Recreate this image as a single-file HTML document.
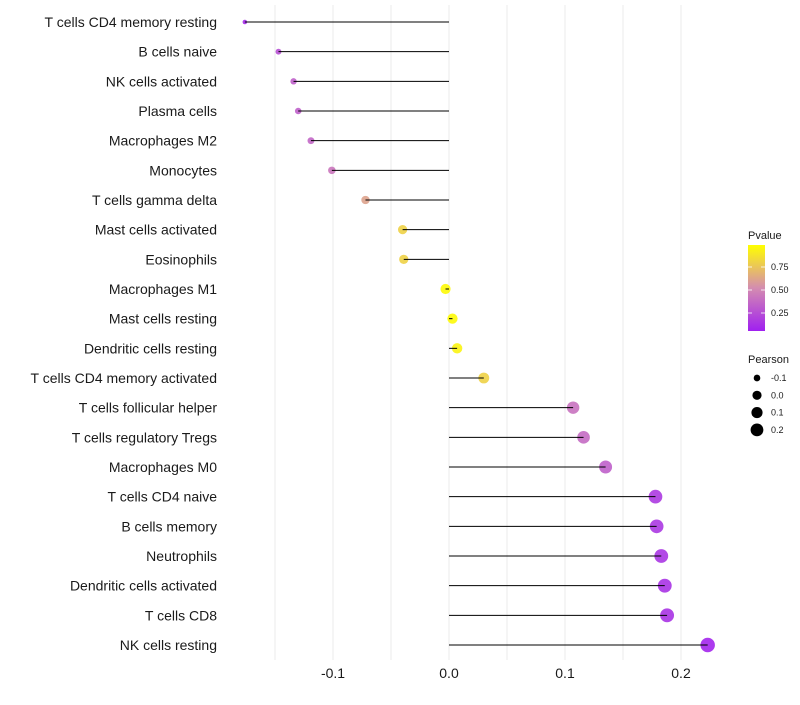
<!DOCTYPE html>
<html><head><meta charset="utf-8"><style>
body{margin:0;background:#fff;}
svg text{font-family:"Liberation Sans",sans-serif;}
</style></head><body>
<svg id="chart" width="800" height="700"></svg>
<script>
const categories=["T cells CD4 memory resting","B cells naive","NK cells activated","Plasma cells","Macrophages M2","Monocytes","T cells gamma delta","Mast cells activated","Eosinophils","Macrophages M1","Mast cells resting","Dendritic cells resting","T cells CD4 memory activated","T cells follicular helper","T cells regulatory  Tregs ","Macrophages M0","T cells CD4 naive","B cells memory","Neutrophils","Dendritic cells activated","T cells CD8","NK cells resting"];
const pearson=[-0.176,-0.147,-0.134,-0.130,-0.119,-0.101,-0.072,-0.040,-0.039,-0.003,0.003,0.007,0.030,0.107,0.116,0.135,0.178,0.179,0.183,0.186,0.188,0.223];
const pvalue=[0.05,0.22,0.3,0.3,0.33,0.4,0.6,0.8,0.8,0.98,0.98,0.95,0.8,0.38,0.35,0.3,0.12,0.11,0.1,0.09,0.09,0.03];
const xTicks=[-0.1,0.0,0.1,0.2];
const xTickLabels=["-0.1","0.0","0.1","0.2"];
const gridVals=[-0.15,-0.1,-0.05,0,0.05,0.1,0.15,0.2];
const pLegendVals=[0.25,0.5,0.75];
const pLegendLabels=["0.25","0.50","0.75"];
const sizeLegendVals=[-0.1,0.0,0.1,0.2];
const sizeLegendLabels=["-0.1","0.0","0.1","0.2"];

const NS="http://www.w3.org/2000/svg";
const svg=document.getElementById('chart');
function mk(t,a,p){const e=document.createElementNS(NS,t);for(const k in a)e.setAttribute(k,a[k]);(p||svg).appendChild(e);return e;}
const xs=v=>449+v*1160;
const ys=i=>22+i*(623/21);
const rs=v=>Math.sqrt(Math.max(2.25,26+118*v));
const rsLeg=v=>Math.sqrt(Math.max(2.25,21+100*v));
function hex(c){return c.map(x=>Math.round(x)).reduce((s,x)=>s+x.toString(16).padStart(2,'0'),'#');}
const stops=[[0,[160,32,240]],[0.5,[212,140,176]],[1,[255,255,0]]];
function col(p){for(let i=0;i<stops.length-1;i++){const a=stops[i],b=stops[i+1];if(p<=b[0]){const t=(p-a[0])/(b[0]-a[0]);return hex(a[1].map((x,j)=>x+(b[1][j]-x)*t));}}return hex(stops[2][1]);}

gridVals.forEach(v=>{const l=mk('line',{x1:xs(v),x2:xs(v),y1:5,y2:660,stroke:'#ebebeb','stroke-width':1});
});

categories.forEach((c,i)=>{
  const y=ys(i);
  const t=mk('text',{x:217,y:y+5,'text-anchor':'end','font-size':14,fill:'#1a1a1a'});t.textContent=c;
  
  const d=mk('circle',{cx:xs(pearson[i]),cy:y,r:rs(pearson[i]),fill:col(pvalue[i]),'fill-opacity':0.9});
  
  const l=mk('line',{x1:xs(0),x2:xs(pearson[i]),y1:y,y2:y,stroke:'#000','stroke-width':1});
  
});
xTicks.forEach((v,i)=>{const t=mk('text',{x:xs(v),y:678,'text-anchor':'middle','font-size':14,fill:'#1a1a1a'});t.textContent=xTickLabels[i];
});

let t=mk('text',{x:748,y:239,'font-size':11,fill:'#1a1a1a'});t.textContent='Pvalue';

const defs=mk('defs',{});const g=mk('linearGradient',{id:'pg',x1:0,y1:1,x2:0,y2:0},defs);
[0,0.25,0.5,0.75,1].forEach(s=>mk('stop',{offset:s,'stop-color':col(s)},g));
const bar=mk('rect',{x:748,y:245,width:17,height:86,fill:'url(#pg)'});

const py=p=>336-p*92;
pLegendVals.forEach((p,i)=>{
  mk('line',{x1:748,x2:752,y1:py(p),y2:py(p),stroke:'#fff','stroke-width':0.8});
  mk('line',{x1:761,x2:765,y1:py(p),y2:py(p),stroke:'#fff','stroke-width':0.8});
  const tt=mk('text',{x:771,y:py(p)+3,'font-size':9,fill:'#1a1a1a'});tt.textContent=pLegendLabels[i];
  
});
t=mk('text',{x:748,y:363,'font-size':11,fill:'#1a1a1a'});t.textContent='Pearson';

sizeLegendVals.forEach((v,i)=>{
  const y=378+i*17.3;
  const c=mk('circle',{cx:757,cy:y,r:rsLeg(v),fill:'#000'});
  
  const tt=mk('text',{x:771,y:y+3,'font-size':9,fill:'#1a1a1a'});tt.textContent=sizeLegendLabels[i];
  
});
</script>
</body></html>
